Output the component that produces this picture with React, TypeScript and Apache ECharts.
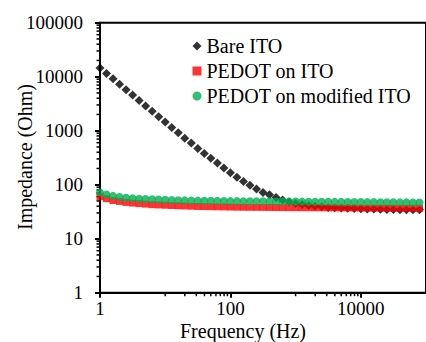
import React, { useEffect, useRef } from "react";
import * as echarts from "echarts";

const frequencies = [
  1, 1.259, 1.585, 1.995, 2.512, 3.162, 3.981, 5.012, 6.31, 7.943,
  10, 12.59, 15.85, 19.95, 25.12, 31.62, 39.81, 50.12, 63.1, 79.43,
  100, 125.9, 158.5, 199.5, 251.2, 316.2, 398.1, 501.2, 631, 794.3,
  1000, 1259, 1585, 1995, 2512, 3162, 3981, 5012, 6310, 7943,
  10000, 12589, 15849, 19953, 25119, 31623, 39811, 50119, 63096, 79433,
];

const bareITO = [
  14500, 11480, 9120, 7240, 5750, 4570, 3630, 2880, 2290, 1820,
  1445, 1148, 912, 724, 589, 468, 380, 309, 251, 204,
  166, 138, 115, 98, 83, 72, 65, 58, 52, 48,
  45, 43, 41, 40, 39, 38, 37.6, 37.2, 36.7, 36.3,
  35.9, 35.5, 35.3, 35.1, 34.8, 34.7, 34.5, 34.4, 34.3, 34.2,
];

const pedotOnITO = [
  60, 55, 51, 49, 47, 45.7, 44.7, 43.7, 42.7, 42.2,
  41.7, 41.2, 40.8, 40.4, 40.0, 39.6, 39.4, 39.2, 39.0, 38.8,
  38.6, 38.4, 38.3, 38.2, 38.1, 38.0, 37.9, 37.8, 37.7, 37.6,
  37.6, 37.5, 37.5, 37.4, 37.4, 37.3, 37.3, 37.2, 37.2, 37.1,
  37.1, 37.0, 37.0, 36.9, 36.9, 36.8, 36.8, 36.7, 36.7, 36.6,
];

const pedotOnModifiedITO = [
  72, 66, 62, 59, 57.5, 56, 55, 54.3, 53.7, 53.1,
  52.5, 52.0, 51.6, 51.3, 51.0, 50.7, 50.5, 50.3, 50.1, 49.9,
  49.7, 49.6, 49.5, 49.4, 49.3, 49.2, 49.1, 49.0, 48.9, 48.8,
  48.7, 48.6, 48.5, 48.4, 48.3, 48.2, 48.1, 48.0, 47.9, 47.8,
  47.7, 47.6, 47.5, 47.4, 47.3, 47.2, 47.1, 47.0, 46.9, 46.8,
];

const xTickLabels = [1, 100, 10000];
const xMinorTicks = [10, 20, 30, 40, 50, 60, 70, 80, 90, 1000, 2000, 3000, 4000, 5000, 6000, 7000, 8000, 9000];
const yDecades = [1, 10, 100, 1000, 10000];
const yMultipliers = [2, 3, 4, 5, 6, 7, 8, 9];

const seriesNames = ["Bare ITO", "PEDOT on ITO", "PEDOT on modified ITO"];

const FONT = "Liberation Serif";
const FS_TICK = 19;
const FS_TEXT = 20;

export default function App() {
  const ref = useRef<HTMLDivElement>(null);

  useEffect(() => {
    if (!ref.current) return;
    const chart = echarts.init(ref.current, undefined, { renderer: "svg" });

    const yMinorTicks: number[] = [];
    yDecades.forEach((d) => yMultipliers.forEach((m) => yMinorTicks.push(d * m)));

    const pair = (ys: number[]) => frequencies.map((f, i) => [f, ys[i]]);

    const option: any = {
      animation: false,
      backgroundColor: "#fff",
      textStyle: { fontFamily: FONT, color: "#000" },
      grid: {
        left: 100,
        top: 22.7,
        bottom: 49.3,
        right: -12.75,
        show: true,
        borderColor: "#000",
        borderWidth: 2,
        containLabel: false,
      },
      legend: {
        orient: "vertical",
        left: 192.5,
        top: 36,
        padding: 0,
        itemWidth: 9,
        itemHeight: 9,
        itemGap: 5,
        textStyle: { fontFamily: FONT, fontSize: FS_TEXT, color: "#000", lineHeight: 20 },
        data: [
          { name: seriesNames[0], icon: "diamond" },
          { name: seriesNames[1], icon: "rect" },
          { name: seriesNames[2], icon: "circle" },
        ],
      },
      xAxis: {
        type: "log",
        logBase: 100,
        min: 1,
        max: 100000,
        interval: 1,
        axisLine: { show: true, lineStyle: { color: "#000", width: 2 } },
        axisTick: { show: true, length: 5, lineStyle: { color: "#000", width: 2 } },
        splitLine: { show: false },
        minorTick: { show: false },
        axisLabel: {
          show: true,
          margin: 6,
          fontFamily: FONT,
          fontSize: FS_TICK,
          color: "#000",
          showMaxLabel: false,
          formatter: (v: number) => {
            const r = Math.round(v);
            return xTickLabels.some((t) => Math.abs(t - v) / t < 1e-6) ? String(r) : "";
          },
        },
      },
      yAxis: {
        type: "log",
        logBase: 10,
        min: 1,
        max: 100000,
        interval: 1,
        axisLine: { show: true, lineStyle: { color: "#000", width: 2 } },
        axisTick: { show: true, length: 5, lineStyle: { color: "#000", width: 2 } },
        splitLine: { show: false },
        axisLabel: {
          margin: 17,
          fontFamily: FONT,
          fontSize: FS_TICK,
          color: "#000",
          formatter: (v: number) => String(Math.round(v)),
        },
      },
      series: [
        {
          name: seriesNames[0],
          type: "scatter",
          symbol: "diamond",
          symbolSize: 9,
          itemStyle: { color: "#000" },
          data: pair(bareITO),
        },
        {
          name: seriesNames[1],
          type: "scatter",
          symbol: "rect",
          symbolSize: 7,
          itemStyle: { color: "#ff0000" },
          data: pair(pedotOnITO),
        },
        {
          name: seriesNames[2],
          type: "scatter",
          symbol: "circle",
          symbolSize: 8,
          itemStyle: { color: "#00b050" },
          data: pair(pedotOnModifiedITO),
        },
        {
          type: "custom",
          silent: true,
          clip: false,
          data: xMinorTicks.map((v) => [v, 1]),
          renderItem: (params: any, api: any) => {
            const p = api.coord([api.value(0), api.value(1)]);
            return {
              type: "line",
              shape: { x1: p[0], y1: p[1], x2: p[0], y2: p[1] + 3.5 },
              style: { stroke: "#000", lineWidth: 1.5 },
            };
          },
        },
        {
          type: "custom",
          silent: true,
          clip: false,
          data: yMinorTicks.map((v) => [1, v]),
          renderItem: (params: any, api: any) => {
            const p = api.coord([api.value(0), api.value(1)]);
            return {
              type: "line",
              shape: { x1: p[0] - 3.5, y1: p[1], x2: p[0], y2: p[1] },
              style: { stroke: "#000", lineWidth: 1.5 },
            };
          },
        },
      ],
      graphic: [
        {
          type: "text",
          x: 25,
          y: 157,
          rotation: Math.PI / 2,
          style: {
            text: "Impedance (Ohm)",
            fontFamily: FONT,
            fontSize: FS_TEXT,
            fill: "#000",
            align: "center",
            verticalAlign: "middle",
          },
        },
        {
          type: "text",
          x: 243,
          y: 331,
          style: {
            text: "Frequency (Hz)",
            fontFamily: FONT,
            fontSize: FS_TEXT,
            fill: "#000",
            align: "center",
            verticalAlign: "middle",
          },
        },
      ],
    };

    chart.setOption(option);
    return () => chart.dispose();
  }, []);

  return (
    <div
      ref={ref}
      style={{ position: "fixed", left: 0, top: 0, width: 426, height: 342, background: "#fff" }}
    />
  );
}
